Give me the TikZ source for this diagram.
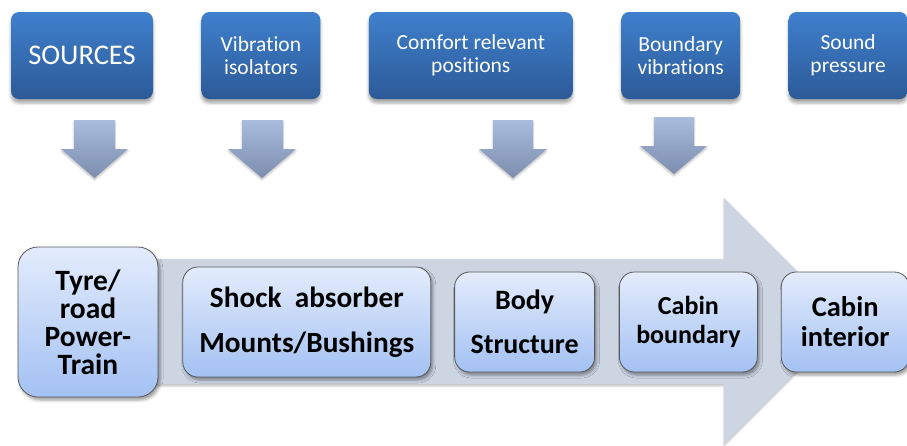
\documentclass[tikz,border=0pt]{standalone}
\usepackage{fontspec}
\setmainfont{Carlito}[Ligatures={TeX,NoCommon}]
\usetikzlibrary{positioning,shadows.blur}
\definecolor{hdtop}{HTML}{3F80CD}
\definecolor{hdbot}{HTML}{2C5A98}
\definecolor{dntop}{HTML}{A9BCDD}
\definecolor{dnbot}{HTML}{7C8DAE}
\definecolor{flowarrow}{HTML}{CDD5E3}
\definecolor{stagetop}{HTML}{E3ECFC}
\definecolor{stagebot}{HTML}{A3C1F3}
\definecolor{stageline}{HTML}{595959}

\begin{document}
\begin{tikzpicture}[x=1pt,y=-1pt,node distance=48pt,
    head node/.style={rounded corners=8pt,top color=hdtop,bottom color=hdbot,text=white,
      align=center,inner sep=0pt,minimum height=87pt,font=\fontsize{21.5}{23.5}\selectfont,
      blur shadow={shadow xshift=0pt,shadow yshift=-4pt,shadow blur radius=3pt,shadow opacity=35}},
    down arrow/.style={top color=dntop,bottom color=dnbot,
      blur shadow={shadow xshift=0pt,shadow yshift=-2pt,shadow blur radius=2pt,shadow opacity=25}},
    stage node/.style={rounded corners=15pt,draw=stageline,line width=0.8pt,top color=stagetop,
      bottom color=stagebot,align=center,inner sep=0pt,minimum height=100pt,
      font=\bfseries\fontsize{29}{28}\selectfont,
      blur shadow={shadow xshift=2pt,shadow yshift=-3pt,shadow blur radius=3pt,shadow opacity=40}}]

  \useasboundingbox (0,0) rectangle (907,445);

  \node[head node,minimum width=142pt,font=\fontsize{28.5}{30}\selectfont] (src) at (82,55.5) {SOURCES};
  \node[head node,minimum width=119pt] (iso)  [right=of src] {Vibration\\isolators};
  \node[head node,minimum width=204pt] (pos)  [right=of iso] {Comfort relevant\\positions};
  \node[head node,minimum width=119pt] (bvib) [right=of pos] {Boundary\\vibrations};
  \node[head node,minimum width=119pt] (snd)  [right=of bvib] {Sound\\pressure};

  \path[down arrow] (74,120) -- (115,120) -- (115,149) -- (128,149) -- (94.5,178) -- (61,149) -- (74,149) -- cycle;
  \path[down arrow] (242,120) -- (283,120) -- (283,149) -- (296,149) -- (262,178) -- (228,149) -- (242,149) -- cycle;
  \path[down arrow] (493,120) -- (533,120) -- (533,149) -- (547,149) -- (513,178) -- (479,149) -- (493,149) -- cycle;
  \path[down arrow] (654,117) -- (694,117) -- (694,146) -- (707,146) -- (674,174) -- (640,146) -- (654,146) -- cycle;

  \path[fill=flowarrow,blur shadow={shadow xshift=0pt,shadow yshift=-2pt,shadow blur radius=2pt,shadow opacity=25}]
    (100,259) -- (724,259) -- (724,198) -- (847,321) -- (724,444) -- (724,384) -- (100,384) -- cycle;

  \node[stage node,minimum width=140pt,minimum height=150pt,rounded corners=20pt,
    font=\bfseries\fontsize{29.5}{28}\selectfont] (tyre) at (88,322) {Tyre/\\road\\Power-\\Train};
  \node[stage node,minimum width=248pt,minimum height=110pt,font=\bfseries\fontsize{29.3}{45}\selectfont] (shock) [right=24pt of tyre] {Shock\ \ absorber\\Mounts/Bushings};
  \node[stage node,minimum width=140pt,font=\bfseries\fontsize{28}{44}\selectfont] (body) [right=23pt of shock] {Body\\Structure};
  \node[stage node,minimum width=138pt,font=\bfseries\fontsize{26}{29}\selectfont] (cbound) [right=24pt of body] {Cabin\\boundary};
  \node[stage node,minimum width=128pt,font=\bfseries\fontsize{28.5}{30}\selectfont] (cint) [right=23pt of cbound] {Cabin\\interior};

\end{tikzpicture}
\end{document}
